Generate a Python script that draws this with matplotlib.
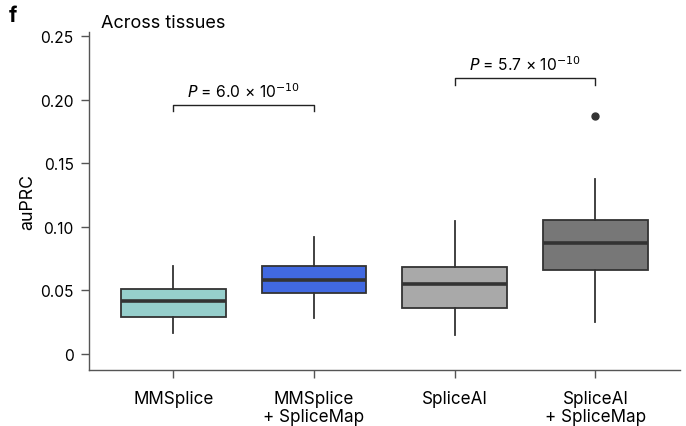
import matplotlib
matplotlib.use("Agg")
import matplotlib.pyplot as plt

plt.rcParams['font.family'] = ['Inter', 'DejaVu Sans']

categories = ["MMSplice", "MMSplice\n+ SpliceMap", "SpliceAI", "SpliceAI\n+ SpliceMap"]
whislo = [0.0163, 0.0283, 0.0152, 0.0254]
q1 = [0.0288, 0.0477, 0.0359, 0.0660]
median = [0.0419, 0.0582, 0.0550, 0.0870]
q3 = [0.0510, 0.0689, 0.0682, 0.1053]
whishi = [0.0694, 0.0917, 0.1048, 0.1376]
fliers = [[], [], [], [0.1873]]
colors = ["#96CFCC", "#4169E1", "#A9A9A9", "#777777"]
pvals = ["6.0", "5.7"]
yticks = [0, 0.05, 0.10, 0.15, 0.20, 0.25]
ytick_labels = ["0", "0.05", "0.10", "0.15", "0.20", "0.25"]

fig = plt.figure(figsize=(6.86, 4.27), dpi=100)
ax = fig.add_axes([0.1297, 0.131, 0.8613, 0.791])

stats = []
for i in range(len(categories)):
    stats.append(dict(whislo=whislo[i], q1=q1[i], med=median[i], q3=q3[i],
                      whishi=whishi[i], fliers=fliers[i]))

edge = "#333333"
bp = ax.bxp(stats, positions=range(len(categories)), widths=0.745,
            patch_artist=True, showcaps=False,
            boxprops=dict(edgecolor=edge, linewidth=1.3),
            whiskerprops=dict(color=edge, linewidth=1.3),
            medianprops=dict(color=edge, linewidth=2.6),
            flierprops=dict(marker='o', markerfacecolor=edge, markeredgecolor=edge,
                            markersize=5))
for patch, c in zip(bp['boxes'], colors):
    patch.set_facecolor(c)

ax.set_xlim(-0.6, 3.6)
ax.set_ylim(-0.0126, 0.253)
ax.set_yticks(yticks)
ax.set_yticklabels(ytick_labels)
ax.set_xticks(range(len(categories)))
ax.set_xticklabels(categories, fontsize=12.3, linespacing=1.15)
ax.tick_params(axis='y', labelsize=11.2, length=6, width=1, color="#555555", pad=5)
ax.tick_params(axis='x', length=6, width=1, color="#555555", pad=8)
for s in ['top', 'right']:
    ax.spines[s].set_visible(False)
for s in ['left', 'bottom']:
    ax.spines[s].set_color("#555555")
    ax.spines[s].set_linewidth(1)
ax.set_ylabel("auPRC", fontsize=12.8, labelpad=3)

# significance brackets
brackets = [(0, 1, 0.196), (2, 3, 0.2167)]
for (a, b, y), p in zip(brackets, pvals):
    h = 0.005
    ax.plot([a, a, b, b], [y - h, y, y, y - h], color="#222222", lw=1)
    ax.text((a + b) / 2, y + 0.004, r"$\it{P}$ = " + p + r" × 10$^{-10}$",
            ha='center', va='bottom', fontsize=11.3)

fig.text(0.147, 0.925, "Across tissues", fontsize=13, ha='left', va='bottom')
fig.text(0.013, 0.94, "f", fontsize=15, fontweight='bold', ha='left', va='bottom')

fig.savefig("out.png", dpi=100)
